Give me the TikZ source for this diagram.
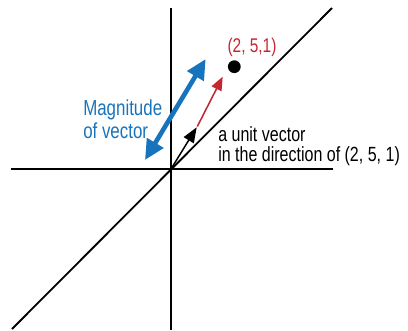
\documentclass[tikz,border=0pt]{standalone}
\usepackage{xcolor}
\usepackage{tikz}
\usetikzlibrary{arrows.meta}
\usepackage{fontspec}
\setmainfont[FakeStretch=0.78]{Liberation Sans}
\definecolor{vecblue}{RGB}{23,116,188}
\definecolor{vecred}{RGB}{197,38,50}

\begin{document}
\begin{tikzpicture}[x=0.025cm, y=-0.025cm,
    axis/.style={line width=1.4pt, black},
    every node/.style={inner sep=0pt}]
        \useasboundingbox (0,0) rectangle (408,330);
        % axes
        \coordinate (O) at (171,169);
        \coordinate (xl) at (11,169);
        \coordinate (xr) at (333,169);
        \coordinate (yt) at (171,8);
        \coordinate (yb) at (171,330);
        \coordinate (zl) at (12,329);
        \coordinate (zr) at (332,8);
        \draw[axis] (xl) -- (xr);
        \draw[axis] (yt) -- (yb);
        \draw[axis, line width=1.3pt] (zl) -- (zr);
        % the point and the vectors
        \node[circle, fill=black, minimum size=0.32cm] (pt) at (234.3,66.7) {};
        \node[text=vecred, font=\fontsize{14.1}{16}\selectfont] (ptlabel) at (252,47) {(2, 5,1)};
        \coordinate (unit) at (196.7,127.3);
        \coordinate (redtail) at (197.3,126.5);
        \coordinate (redtip) at (222.7,76.7);
        \coordinate (mlow) at (145,160);
        \coordinate (mhigh) at (205.7,59);
        \draw[-{Triangle[length=0.38cm, width=0.29cm]}, line width=1.05pt, black] (O) -- (unit);
        \draw[-{Triangle[length=0.34cm, width=0.27cm]}, line width=1.1pt, vecred] (redtail) -- (redtip);
        \draw[{Triangle[length=0.5cm, width=0.46cm]}-{Triangle[length=0.5cm, width=0.46cm]}, line width=3.3pt, vecblue] (mlow) -- (mhigh);
        % labels
        \node[text=vecblue, align=left, anchor=west, font=\fontsize{15.4}{16.3}\selectfont] (mag) at (83,119) {Magnitude\\of vector};
        \node[align=left, anchor=west, font=\fontsize{14.6}{14.2}\selectfont] (unitlabel) at (218,146) {a unit vector\\in the direction of (2, 5, 1)};
      \end{tikzpicture}
\end{document}
